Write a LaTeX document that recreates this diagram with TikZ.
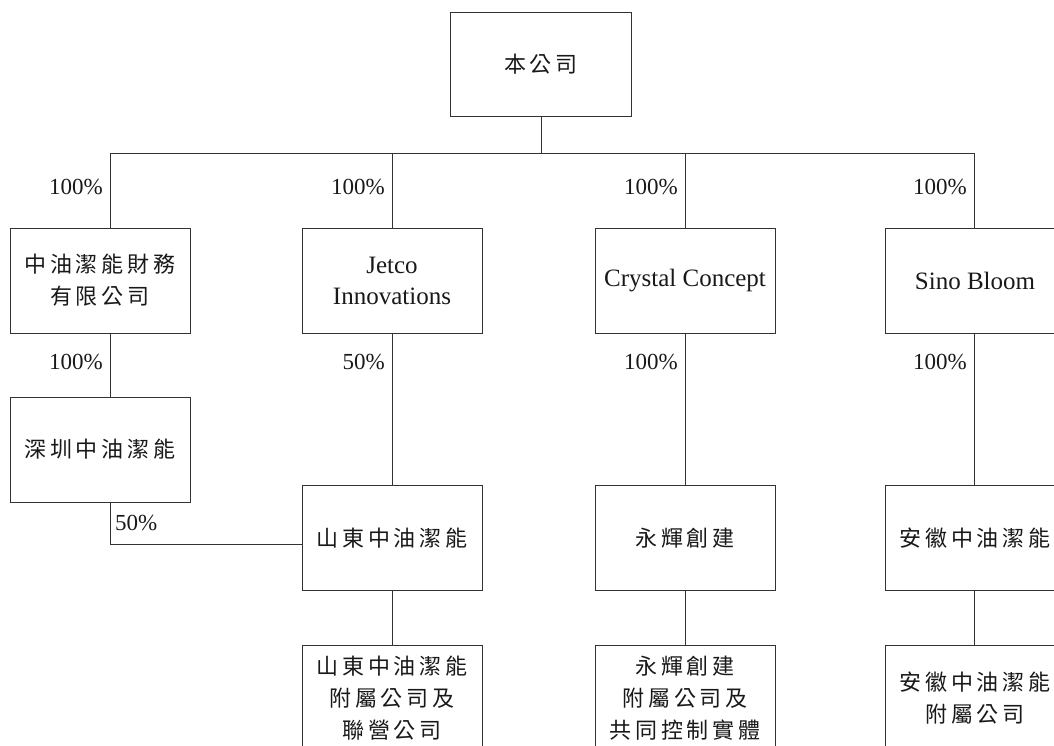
\documentclass[tikz,border=0pt]{standalone}
\usepackage{fontspec}
\setmainfont{Liberation Serif}
\newfontfamily\cjk[LetterSpace=18]{Noto Sans CJK TC}
\usetikzlibrary{positioning}

\begin{document}
\begin{tikzpicture}[x=1pt,y=-1pt,
  box/.style={draw=black!80, line width=0.9pt, minimum width=180pt, minimum height=105pt,
    align=center, inner sep=0pt, text=black!90},
  zh/.style={font=\cjk\fontsize{22}{32}\selectfont},
  en/.style={font=\fontsize{25}{31}\selectfont},
  link/.style={draw=black!80, line width=0.9pt},
  pct/.style={font=\fontsize{23}{24}\selectfont, inner sep=0pt, text=black!90}]
  \useasboundingbox (0,0) rectangle (1054,746);
  \clip (0,0) rectangle (1054,746);
  % Define boxes
  \node[box, zh, minimum width=181pt, minimum height=104pt] (co) at (541,64) {本公司};
  \node[box, zh] (fin) at (100,280.5) {中油潔能財務\\有限公司};
  \node[box, en] (jetco) at (392,280.5) {Jetco\\Innovations};
  \node[box, en] (crystal) at (685,280.5) {Crystal Concept};
  \node[box, en] (sino) at (975,280.5) {Sino Bloom};
  \node[box, zh] (sz) at (100,449.5) {深圳中油潔能};
  \node[box, zh] (sd) at (392,538) {山東中油潔能};
  \node[box, zh] (yh) at (685,538) {永輝創建};
  \node[box, zh] (ah) at (975,538) {安徽中油潔能};
  \node[box, zh] (sdsub) at (392,698) {山東中油潔能\\附屬公司及\\聯營公司};
  \node[box, zh] (yhsub) at (685,698) {永輝創建\\附屬公司及\\共同控制實體};
  \node[box, zh] (ahsub) at (975,698) {安徽中油潔能\\附屬公司};
  % Define coordinates
  \path
    (110,153) coordinate (busL)
    (974,153) coordinate (busR)
    (co.south |- busL) coordinate (busM)
  ;
  % Draw links
  \draw[link] (co.south) -- (busM);
  \draw[link] (busL) -- (busR);
  \draw[link] (busL) -- ([xshift=10pt]fin.north);
  \draw[link] (jetco.north |- busL) -- (jetco.north);
  \draw[link] (crystal.north |- busL) -- (crystal.north);
  \draw[link] (busR) -- (busR |- sino.north);
  \draw[link] ([xshift=10pt]fin.south) -- ([xshift=10pt]sz.north);
  \draw[link] ([xshift=10pt]sz.south) |- ([yshift=-6pt]sd.west);
  \draw[link] (jetco.south) -- (sd.north);
  \draw[link] (crystal.south) -- (yh.north);
  \draw[link] (busR |- sino.south) -- (busR |- ah.north);
  \draw[link] (sd.south) -- (sdsub.north);
  \draw[link] (yh.south) -- (yhsub.north);
  \draw[link] (busR |- ah.south) -- (busR |- ahsub.north);
  % Percentages
  \node[pct, anchor=east] (p1) at (103,187) {100\%};
  \node[pct, anchor=east] (p2) at (385,187) {100\%};
  \node[pct, anchor=east] (p3) at (678,187) {100\%};
  \node[pct, anchor=east] (p4) at (967,187) {100\%};
  \node[pct, anchor=east] (p5) at (103,362) {100\%};
  \node[pct, anchor=east] (p6) at (385,362) {50\%};
  \node[pct, anchor=east] (p7) at (678,362) {100\%};
  \node[pct, anchor=east] (p8) at (967,362) {100\%};
  \node[pct, anchor=west] (p9) at (115,523) {50\%};
\end{tikzpicture}
\end{document}
